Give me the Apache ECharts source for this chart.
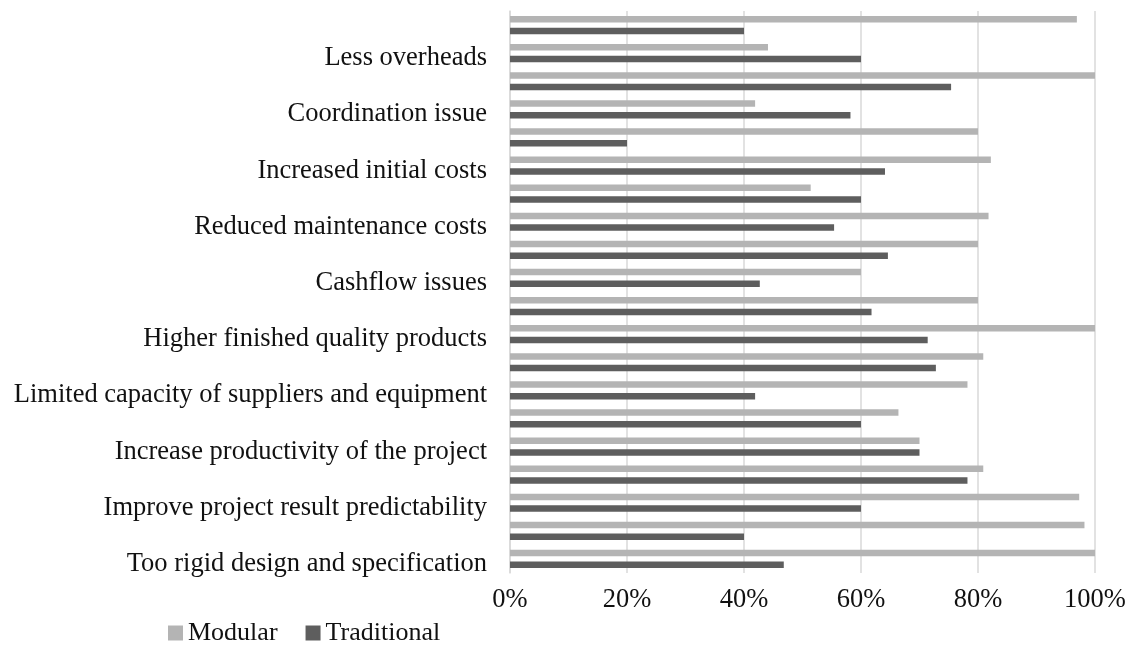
<!DOCTYPE html>
<html>
<head>
<meta charset="utf-8">
<script src="https://cdn.jsdelivr.net/npm/echarts@6/dist/echarts.min.js"></script>
<style>
html,body{margin:0;padding:0;background:#fff;}
#chart{width:1129px;height:646px;}
</style>
</head>
<body>
<div id="chart"></div>
<script>
// Categories from bottom to top (only every other one is labelled in the reference)
const categories = [
  "Too rigid design and specification",
  "(unlabelled 1)",
  "Improve project result predictability",
  "(unlabelled 2)",
  "Increase productivity of the project",
  "(unlabelled 3)",
  "Limited capacity of suppliers and equipment",
  "(unlabelled 4)",
  "Higher finished quality products",
  "(unlabelled 5)",
  "Cashflow issues",
  "(unlabelled 6)",
  "Reduced maintenance costs",
  "(unlabelled 7)",
  "Increased initial costs",
  "(unlabelled 8)",
  "Coordination issue",
  "(unlabelled 9)",
  "Less overheads",
  "(unlabelled 10)"
];
// Percent values, same order as categories (bottom to top)
const modular = [100, 98.2, 97.3, 80.9, 70, 66.4, 78.2, 80.9, 100, 80, 60, 80, 81.8, 51.4, 82.2, 80, 41.9, 100, 44.1, 96.9];
const traditional = [46.8, 40, 60, 78.2, 70, 60, 41.9, 72.8, 71.4, 61.8, 42.7, 64.6, 55.4, 60, 64.1, 20, 58.2, 75.4, 60, 40];
const xTicks = [0, 20, 40, 60, 80, 100];

const font = "'Liberation Serif', 'Times New Roman', serif";
const chart = echarts.init(document.getElementById('chart'), null, {renderer: 'canvas'});
chart.setOption({
  animation: false,
  backgroundColor: '#ffffff',
  textStyle: {fontFamily: font},
  grid: {left: 510, right: 34, top: 11, bottom: 73, containLabel: false},
  legend: {
    data: ['Modular', 'Traditional'],
    left: 163, top: 615,
    itemWidth: 15, itemHeight: 15, itemGap: 28,
    icon: 'rect',
    textStyle: {fontFamily: font, fontSize: 26, color: '#111'}
  },
  xAxis: {
    type: 'value', min: xTicks[0], max: xTicks[xTicks.length - 1], interval: 20,
    axisLine: {show: false}, axisTick: {show: false},
    axisLabel: {formatter: '{value}%', fontFamily: font, fontSize: 26.5, color: '#111', margin: 14},
    splitLine: {show: true, lineStyle: {color: '#d9d9d9', width: 1.5}}
  },
  yAxis: {
    type: 'category', data: categories,
    axisLine: {show: true, lineStyle: {color: '#d9d9d9', width: 1.5}},
    axisTick: {show: false},
    axisLabel: {interval: 1, fontFamily: font, fontSize: 26.5, color: '#111', margin: 23,
                verticalAlign: 'top', lineHeight: 10},
    splitLine: {show: false}
  },
  series: [
    {name: 'Modular', type: 'bar', data: modular, barWidth: 6.5, barGap: '80%',
     itemStyle: {color: '#b4b4b4'}},
    {name: 'Traditional', type: 'bar', data: traditional, barWidth: 6.5, barGap: '80%',
     itemStyle: {color: '#5e5e5e'}}
  ]
});
</script>
</body>
</html>
